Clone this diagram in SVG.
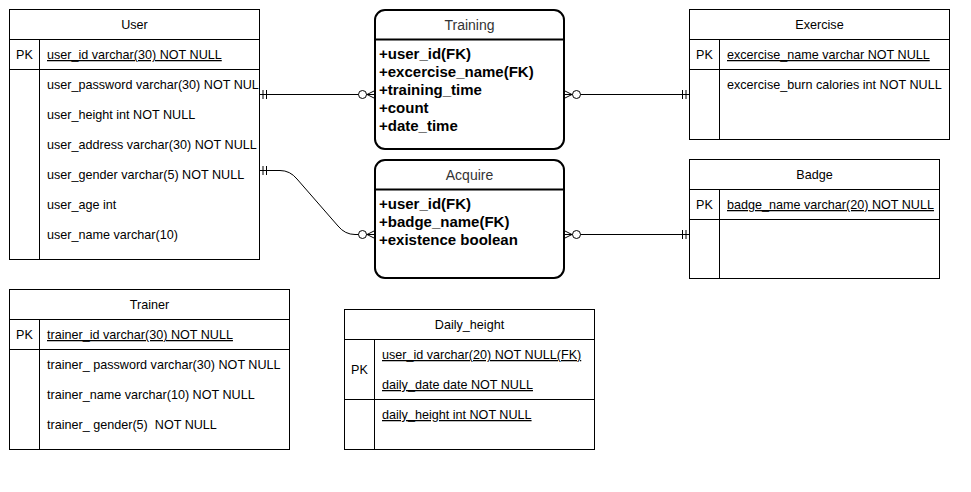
<svg xmlns="http://www.w3.org/2000/svg" width="971" height="492" viewBox="0 0 971 492">
<style>
.box{fill:#fff;stroke:#000;stroke-width:1}
.ln{stroke:#000;stroke-width:1;fill:none}
.rbox{fill:#fff;stroke:#000;stroke-width:2}
.t{font-family:"Liberation Sans",Arial,sans-serif;font-size:12.6px;fill:#000}
.c{text-anchor:middle}
.u{text-decoration:underline}
.tt{font-family:"Liberation Sans",Arial,sans-serif;font-size:14px;fill:#333;text-anchor:middle}
.b{font-family:"Liberation Sans",Arial,sans-serif;font-size:15px;font-weight:bold;fill:#000}
.con{stroke:#000;stroke-width:1;fill:none}
</style>
<defs>
<marker id="zeroMany" markerUnits="userSpaceOnUse" viewBox="-20 -8 22 16" refX="0" refY="0" markerWidth="22" markerHeight="16" orient="auto-start-reverse" overflow="visible">
<path d="M-8,0 L0,-4 M-8,0 L0,4 M-8,0 L0,0" stroke="#000" stroke-width="1" fill="none"/>
<circle cx="-12.5" cy="0" r="4" fill="#fff" stroke="#000" stroke-width="1"/>
</marker>
<marker id="mandOne" markerUnits="userSpaceOnUse" viewBox="-20 -8 22 16" refX="0" refY="0" markerWidth="22" markerHeight="16" orient="auto-start-reverse" overflow="visible">
<path d="M-3.5,-4.5 V4.5 M-7,-4.5 V4.5" stroke="#000" stroke-width="1" fill="none"/>
</marker>
</defs>
<rect width="971" height="492" fill="#fff"/>

<g id="connectors">
<path class="con" d="M259.5,94.5 H375" marker-start="url(#mandOne)" marker-end="url(#zeroMany)"/>
<path class="con" d="M259.5,170.5 H280 Q290,170.5 297,179 L338,226 Q345,234.5 355,234.5 H375" marker-start="url(#mandOne)" marker-end="url(#zeroMany)"/>
<path class="con" d="M564,94.5 H689.5" marker-start="url(#zeroMany)" marker-end="url(#mandOne)"/>
<path class="con" d="M564,234.5 H689.5" marker-start="url(#zeroMany)" marker-end="url(#mandOne)"/>
</g>

<g id="User">
<rect class="box" x="9.5" y="9.5" width="250" height="250"/>
<path class="ln" d="M9.5,39.5 H259.5 M9.5,69.5 H259.5 M39.5,39.5 V259.5"/>
<text class="t c" x="134.5" y="29">User</text>
<text class="t c" x="24.5" y="59">PK</text>
<text class="t u" x="47" y="59">user_id varchar(30) NOT NULL</text>
<text class="t" x="47" y="89">user_password varchar(30) NOT NUL</text>
<text class="t" x="47" y="119">user_height int NOT NULL</text>
<text class="t" x="47" y="149">user_address varchar(30) NOT NULL</text>
<text class="t" x="47" y="179">user_gender varchar(5) NOT NULL</text>
<text class="t" x="47" y="209">user_age int</text>
<text class="t" x="47" y="239">user_name varchar(10)</text>
</g>

<g id="Training">
<rect class="rbox" x="375" y="10" width="189" height="139" rx="10" ry="10"/>
<path d="M375,39.5 H564" stroke="#000" stroke-width="2"/>
<text class="tt" x="469.5" y="30">Training</text>
<text class="b" x="379" y="58.5">+user_id(FK)</text>
<text class="b" x="379" y="76.5">+excercise_name(FK)</text>
<text class="b" x="379" y="94.5">+training_time</text>
<text class="b" x="379" y="112.5">+count</text>
<text class="b" x="379" y="130.5">+date_time</text>
</g>

<g id="Acquire">
<rect class="rbox" x="375" y="160" width="189" height="118" rx="10" ry="10"/>
<path d="M375,189.5 H564" stroke="#000" stroke-width="2"/>
<text class="tt" x="469.5" y="180">Acquire</text>
<text class="b" x="379" y="209">+user_id(FK)</text>
<text class="b" x="379" y="227">+badge_name(FK)</text>
<text class="b" x="379" y="245">+existence boolean</text>
</g>

<g id="Exercise">
<rect class="box" x="689.5" y="9.5" width="260" height="130"/>
<path class="ln" d="M689.5,39.5 H949.5 M689.5,69.5 H949.5 M719.5,39.5 V139.5"/>
<text class="t c" x="819.5" y="29">Exercise</text>
<text class="t c" x="704.5" y="59">PK</text>
<text class="t u" x="727" y="59">excercise_name varchar NOT NULL</text>
<text class="t" x="727" y="89">excercise_burn calories int NOT NULL</text>
</g>

<g id="Badge">
<rect class="box" x="689.5" y="159.5" width="250" height="119"/>
<path class="ln" d="M689.5,189.5 H939.5 M689.5,219.5 H939.5 M719.5,189.5 V278.5"/>
<text class="t c" x="814.5" y="179">Badge</text>
<text class="t c" x="704.5" y="209">PK</text>
<text class="t u" x="727" y="209">badge_name varchar(20) NOT NULL</text>
</g>

<g id="Trainer">
<rect class="box" x="9.5" y="289.5" width="280" height="160"/>
<path class="ln" d="M9.5,319.5 H289.5 M9.5,349.5 H289.5 M39.5,319.5 V449.5"/>
<text class="t c" x="149.5" y="309">Trainer</text>
<text class="t c" x="24.5" y="339">PK</text>
<text class="t u" x="47" y="339">trainer_id varchar(30) NOT NULL</text>
<text class="t" x="47" y="369" xml:space="preserve">trainer_ password varchar(30) NOT NULL</text>
<text class="t" x="47" y="399">trainer_name varchar(10) NOT NULL</text>
<text class="t" x="47" y="429" xml:space="preserve">trainer_ gender(5)  NOT NULL</text>
</g>

<g id="Daily_height">
<rect class="box" x="344.5" y="309.5" width="250" height="140"/>
<path class="ln" d="M344.5,339.5 H594.5 M344.5,399.5 H594.5 M374.5,339.5 V449.5"/>
<text class="t c" x="469.5" y="329">Daily_height</text>
<text class="t c" x="359.5" y="374">PK</text>
<text class="t u" x="382" y="359">user_id varchar(20) NOT NULL(FK)</text>
<text class="t u" x="382" y="389">daily_date date NOT NULL</text>
<text class="t u" x="382" y="419">daily_height int NOT NULL</text>
</g>
</svg>
